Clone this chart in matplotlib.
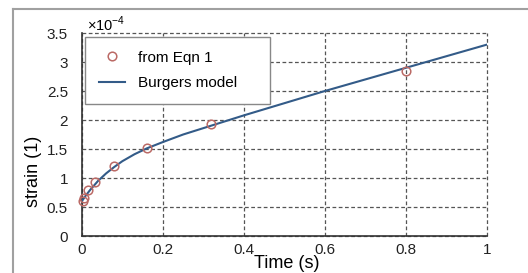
import matplotlib
matplotlib.use('Agg')
import matplotlib.pyplot as plt
from matplotlib.lines import Line2D

plt.rcParams['font.family'] = ['Liberation Sans', 'DejaVu Sans']
plt.rcParams['mathtext.fontset'] = 'custom'
plt.rcParams['mathtext.rm'] = 'Liberation Sans'

# measured points (strain in units of 1e-4)
t_eqn = [0.002, 0.005, 0.015, 0.032, 0.08, 0.16, 0.32, 0.8]
strain_eqn = [0.61, 0.66, 0.79, 0.93, 1.21, 1.52, 1.94, 2.85]

# Burgers model curve
t_model = [0.0, 0.01, 0.02, 0.04, 0.06, 0.08, 0.1, 0.13, 0.16, 0.2,
           0.25, 0.3, 0.4, 0.5, 0.6, 0.7, 0.8, 0.9, 1.0]
strain_model = [0.6, 0.70, 0.79, 0.95, 1.08, 1.19, 1.29, 1.41, 1.51, 1.62,
                1.75, 1.86, 2.08, 2.29, 2.5, 2.7, 2.9, 3.1, 3.3]

xticks = [0, 0.2, 0.4, 0.6, 0.8, 1]
xticklabels = ['0', '0.2', '0.4', '0.6', '0.8', '1']
yticks = [0, 0.5, 1, 1.5, 2, 2.5, 3, 3.5]
yticklabels = ['0', '0.5', '1', '1.5', '2', '2.5', '3', '3.5']

fig = plt.figure(figsize=(5.28, 2.73), dpi=100)
ax = fig.add_axes([0.155, 0.1355, 0.767, 0.7435])

# outer frame (top and left edges visible)
fig.add_artist(Line2D([0.0246, 1.0], [0.967, 0.967], transform=fig.transFigure,
                      color='#a0a0a0', lw=1.5))
fig.add_artist(Line2D([0.0246, 0.0246], [0.0, 0.967], transform=fig.transFigure,
                      color='#a0a0a0', lw=1.5))

ax.plot(t_model, strain_model, color='#335b88', lw=1.5, label='Burgers model', zorder=3)
ax.plot(t_eqn, strain_eqn, 'o', ms=6.2, mfc='none', mec='#bb6a66', mew=1.1,
        label='from Eqn 1', zorder=4, clip_on=False)

ax.set_xlim(0, 1)
ax.set_ylim(0, 3.5)
ax.set_xticks(xticks)
ax.set_xticklabels(xticklabels)
ax.set_yticks(yticks)
ax.set_yticklabels(yticklabels)
ax.tick_params(length=0, labelsize=11, colors='#222222')
ax.tick_params(axis='y', pad=10)
ax.tick_params(axis='x', pad=5)

ax.grid(True, ls=(0, (3, 2)), color='#555555', lw=0.9)
for gl in ax.get_xgridlines() + ax.get_ygridlines():
    gl.set_clip_on(False)
for s in ['top', 'right']:
    ax.spines[s].set_visible(False)
for s in ['left', 'bottom']:
    ax.spines[s].set_color('#333333')
    ax.spines[s].set_linewidth(1.2)
    ax.spines[s].set_zorder(2.6)

ax.set_xlabel('Time (s)', fontsize=13, va='center')
ax.xaxis.set_label_coords(0.506, -0.133)
ax.set_ylabel('strain (1)', fontsize=13, va='center')
ax.yaxis.set_label_coords(-0.12, 0.32)

ax.text(0.012, 1.045, r'$\times10^{-4}$', transform=ax.transAxes, fontsize=10.5,
        va='center', ha='left')

handles, labels = ax.get_legend_handles_labels()
leg = ax.legend(handles[::-1], labels[::-1], loc='upper left',
                bbox_to_anchor=(0.0074, 0.655, 0.457, 0.325), mode='expand',
                borderaxespad=0, fontsize=11, fancybox=False, framealpha=1,
                edgecolor='#888888', borderpad=0.9, labelspacing=0.75,
                handlelength=1.7, handletextpad=0.9)
leg.get_frame().set_linewidth(1.0)

fig.savefig('out.png', dpi=100)
